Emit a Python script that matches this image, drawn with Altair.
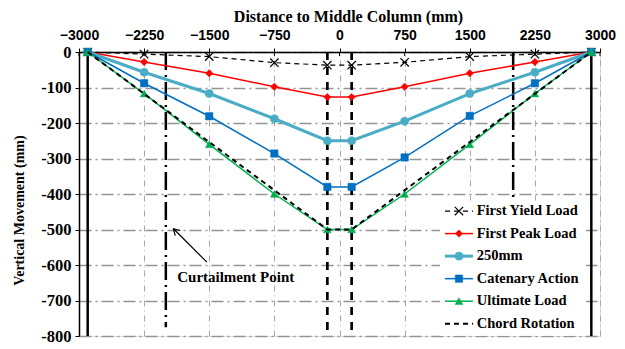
import altair as alt
import pandas as pd

# Measurement stations along the beam (mm from the middle column)
x_pos = [-2900, -2250, -1500, -750, -140, 140, 750, 1500, 2250, 2900]

# Vertical movement of each station (mm) at the recorded load stages
first_yield = [0, -6, -13, -30, -37, -37, -29, -13, -6, 0]
first_peak = [0, -28, -60, -98, -127, -127, -98, -60, -28, 0]
mm250 = [0, -57, -117, -188, -250, -250, -195, -117, -57, 0]
catenary = [0, -88, -181, -286, -380, -380, -297, -180, -88, 0]
ultimate = [0, -117, -260, -400, -500, -500, -400, -260, -117, 0]

# Chord rotation reference line
chord_x = [-2900, -140, 140, 2900]
chord_y = [0, -500, -500, 0]

# Axis ticks
x_ticks = [-3000, -2250, -1500, -750, 0, 750, 1500, 2250, 3000]
y_ticks = [-800, -700, -600, -500, -400, -300, -200, -100, 0]

# Structural reference lines
column_x = [-2900, 2900]
curtail_x = [-2000, 2000]
center_x = [-140, 140]

SERIF = "Liberation Serif"
SANS = "Liberation Sans"

xscale = alt.Scale(domain=[-3000, 3000], nice=False, zero=False)
yscale = alt.Scale(domain=[-800, 0], nice=False, zero=False)

x_axis = alt.Axis(
    orient="top", values=x_ticks, format="d",
    labelFont=SANS, labelFontWeight="bold", labelFontSize=14, labelColor="black",
    labelPadding=6, labelFlush=False, labelOverlap=False,
    tickSize=4, tickColor="black", tickWidth=1,
    domainColor="black", domainWidth=1.5,
    grid=True, gridColor="#a8a8a8", gridDash=[6, 4, 1, 4], gridWidth=1,
    title="Distance to Middle Column (mm)", titleFont=SERIF, titleFontSize=16,
    titleFontWeight="bold", titleColor="black", titleX=269, titleY=-31,
    titleBaseline="alphabetic", titleAlign="center",
)
y_axis = alt.Axis(
    orient="left", values=y_ticks,
    labelExpr="replace(datum.label, '\u2212', '-')",
    labelFont=SERIF, labelFontWeight="bold", labelFontSize=16.5, labelColor="black",
    labelPadding=4, labelFlush=False, labelOverlap=False,
    tickSize=4, tickColor="black", tickWidth=1,
    domainColor="black", domainWidth=1.5,
    grid=True, gridColor="#949494", gridDash=[12, 4, 2, 4], gridWidth=1.5,
    title="Vertical Movement (mm)", titleFont=SERIF, titleFontSize=14,
    titleFontWeight="bold", titleColor="black", titleX=-56, titleY=158,
    titleBaseline="alphabetic", titleAngle=270, titleAlign="center",
)


def X(field="x"):
    return alt.X(f"{field}:Q", scale=xscale, axis=x_axis)


def Y(field="y"):
    return alt.Y(f"{field}:Q", scale=yscale, axis=y_axis)


layers = []

# Column lines
col_df = pd.DataFrame({"x": column_x, "y": [0, 0], "y2": [-800, -800]})
layers.append(
    alt.Chart(col_df).mark_rule(color="black", strokeWidth=2.5).encode(
        x=X("x"), y=Y("y"), y2="y2:Q"
    )
)

# Curtailment points
cur_df = pd.DataFrame({"x": curtail_x, "y": [0, 0], "y2": [-775, -775]})
layers.append(
    alt.Chart(cur_df).mark_rule(color="black", strokeWidth=2.5, strokeDash=[18, 5, 2, 5]).encode(
        x=X("x"), y=Y("y"), y2="y2:Q"
    )
)

# Middle column faces
cen_df = pd.DataFrame({"x": center_x, "y": [0, 0], "y2": [-800, -800]})
layers.append(
    alt.Chart(cen_df).mark_rule(color="black", strokeWidth=2.7, strokeDash=[8, 7]).encode(
        x=X("x"), y=Y("y"), y2="y2:Q"
    )
)

CROSS = "M-1,-1L1,1M-1,1L1,-1"

series = [
    ("First Yield Load", x_pos, first_yield,
     dict(color="black", width=1.2, dash=[5, 4], shape=CROSS, size=70, filled=False)),
    ("First Peak Load", x_pos, first_peak,
     dict(color="#ff0000", width=1.5, dash=None, shape="diamond", size=55, filled=True)),
    ("250mm", x_pos, mm250,
     dict(color="#4bacc6", width=3, dash=None, shape="circle", size=65, filled=True)),
    ("Catenary Action", x_pos, catenary,
     dict(color="#0070c0", width=1.5, dash=None, shape="square", size=55, filled=True)),
    ("Ultimate Load", x_pos, ultimate,
     dict(color="#00b050", width=1.5, dash=None, shape="triangle-up", size=60, filled=True)),
    ("Chord Rotation", chord_x, chord_y,
     dict(color="black", width=2, dash=[5, 4], shape=None, size=0, filled=False)),
]

# Legend placement (data units)
leg_y0, leg_dy = -448, -63.5
leg_x1, leg_x2, leg_xm, leg_xt = 1215, 1537, 1376, 1580

legend_layers = []
legend_layers.append(
    alt.Chart(pd.DataFrame({"x": [1158], "x2": [2840], "y": [-418], "y2": [-799]}))
    .mark_rect(color="white")
    .encode(x=X("x"), x2="x2:Q", y=Y("y"), y2="y2:Q")
)

for i, (name, xs, ys, st) in enumerate(series):
    df = pd.DataFrame({"x": xs, "y": ys})
    line_kw = dict(color=st["color"], strokeWidth=st["width"])
    if st["dash"]:
        line_kw["strokeDash"] = st["dash"]
    layers.append(alt.Chart(df).mark_line(**line_kw).encode(x=X(), y=Y()))

    ly = leg_y0 + i * leg_dy
    ldf = pd.DataFrame({"x": [leg_x1], "x2": [leg_x2], "y": [ly], "xm": [leg_xm],
                        "xt": [leg_xt], "label": [name]})
    legend_layers.append(
        alt.Chart(ldf).mark_rule(**line_kw).encode(x=X("x"), x2="x2:Q", y=Y("y"))
    )
    if st["shape"]:
        pkw = dict(shape=st["shape"], size=st["size"], filled=st["filled"], opacity=1)
        if st["filled"]:
            pkw.update(fill=st["color"], stroke=st["color"], strokeWidth=0.5)
        else:
            pkw.update(stroke=st["color"], strokeWidth=1.2)
        layers.append(alt.Chart(df).mark_point(**pkw).encode(x=X(), y=Y()))
        legend_layers.append(
            alt.Chart(ldf).mark_point(**pkw).encode(x=X("xm"), y=Y("y"))
        )
    legend_layers.append(
        alt.Chart(ldf).mark_text(
            align="left", baseline="middle", font=SERIF, fontWeight="bold",
            fontSize=14.5, color="black"
        ).encode(x=X("xt"), y=Y("y"), text="label:N")
    )

layers.extend(legend_layers)

# Curtailment point annotation
arrow_df = pd.DataFrame({"x": [-1527], "y": [-592], "x2": [-1912], "y2": [-498]})
layers.append(
    alt.Chart(arrow_df).mark_rule(color="black", strokeWidth=1.2).encode(
        x=X("x"), y=Y("y"), x2="x2:Q", y2="y2:Q"
    )
)
layers.append(
    alt.Chart(arrow_df).mark_point(
        shape="M-0.6,1L0,0L0.6,1", size=150, filled=False, stroke="black",
        strokeWidth=1.2, angle=315, opacity=1
    ).encode(x=X("x2"), y=Y("y2"))
)
layers.append(
    alt.Chart(pd.DataFrame({"x": [-1869], "y": [-635], "t": ["Curtailment Point"]}))
    .mark_text(align="left", baseline="middle", font=SERIF, fontWeight="bold",
               fontSize=15, color="black")
    .encode(x=X("x"), y=Y("y"), text="t:N")
)

# Inner halves of the top-axis ticks
layers.append(
    alt.Chart(pd.DataFrame({"x": x_ticks})).mark_rule(color="black", strokeWidth=1).encode(
        x=X("x"), y=alt.value(0), y2=alt.value(4)
    )
)

chart = (
    alt.layer(*layers)
    .properties(width=521, height=284,
                autosize=alt.AutoSizeParams(type="none"),
                padding={"left": 79, "top": 52, "right": 25, "bottom": 13})
    .configure_view(stroke="black", strokeWidth=1.5)
    .configure_axis(titleFont=SERIF, labelFont=SERIF)
    .configure_axisX(labelFont=SANS)
    .configure(background="white")
)

chart.save("out.html", embed_options={"renderer": "svg", "actions": False})
